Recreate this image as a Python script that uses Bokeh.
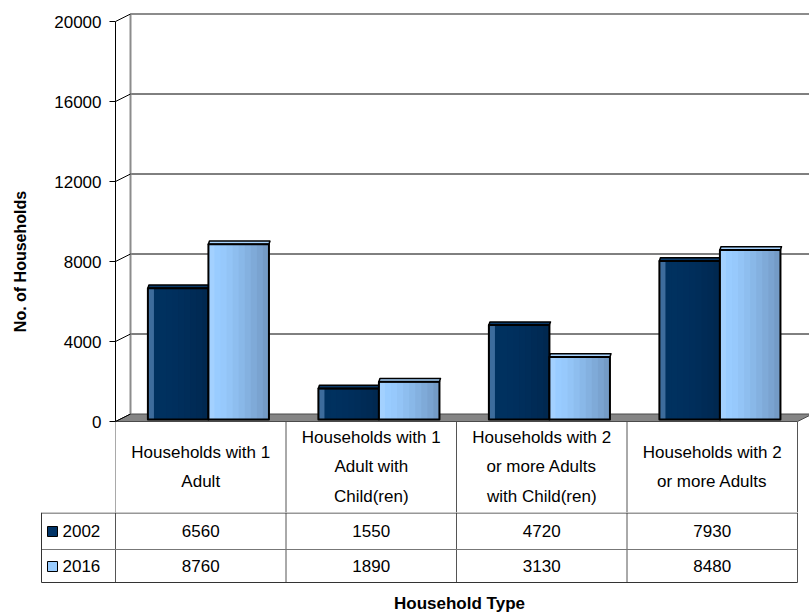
import textwrap

from bokeh.core.properties import value
from bokeh.embed import file_html
from bokeh.layouts import column
from bokeh.models import FixedTicker, LinearAxis, Range1d
from bokeh.plotting import figure
from bokeh.resources import INLINE

# ---- data -------------------------------------------------------------
categories = [
    "Households with 1 Adult",
    "Households with 1 Adult with Child(ren)",
    "Households with 2 or more Adults with Child(ren)",
    "Households with 2 or more Adults",
]
years = ["2002", "2016"]
values_2002 = [6560, 1550, 4720, 7930]
values_2016 = [8760, 1890, 3130, 8480]
y_ticks = [0, 4000, 8000, 12000, 16000, 20000]

series = [values_2002, values_2016]

# ---- styling ----------------------------------------------------------
FONT = value("Liberation Sans")
W, H = 809, 614
LEFT = 115              # page x of the front value axis
TOP = 10                # page y of the chart frame top
PX_PER_UNIT = 0.02      # vertical scale: pixels per household
Y_MAX = 20550
HEAD_BOT = 512          # page y of the bottom of the table's header row
ZERO_PX = TOP + Y_MAX * PX_PER_UNIT            # page y of the value 0
Y_MIN = -(HEAD_BOT - ZERO_PX) / PX_PER_UNIT    # chart frame reaches the header bottom
TOP_H = HEAD_BOT
CAT_PX = 170.5          # width of one category in pixels
DEPTH_X = 15 / CAT_PX   # 3-D depth offset in category units
DEPTH_Y = 375           # 3-D depth offset in value units

stripe_colors = [
    ["#3d6c9c", "#00315f", "#00315f", "#00305e", "#002f5d", "#002e5b",
     "#002d59", "#002b56", "#002a54", "#002850"],
    ["#a3d1ff", "#99ccff", "#97c9fc", "#93c4f6", "#8ebeef", "#89b8e8",
     "#84b1e0", "#7faad8", "#7aa3d0", "#749bc6"],
]
top_colors = ["#0a3a6a", "#a8d4ff"]
key_colors = ["#003366", "#99ccff"]
bar_offsets = [0.19, 0.545]
bar_w = 0.355
bar_lift = 100          # bars stand a little behind the front edge
table_line = "#555555"
TXT = "17px"

x_end = (W - LEFT) / CAT_PX
n = len(categories)

# ---- chart (with the table's header row underneath) -------------------
p = figure(
    width=W, height=TOP_H,
    x_range=Range1d(0, x_end), y_range=Range1d(Y_MIN, Y_MAX),
    output_backend="svg", toolbar_location=None,
    x_axis_location=None,
    min_border_left=LEFT, min_border_right=0,
    min_border_top=TOP, min_border_bottom=0,
)
p.frame_align = False
p.grid.visible = False
p.outline_line_color = None
p.background_fill_color = "white"
p.border_fill_color = "white"

ax = p.yaxis[0]
ax.ticker = FixedTicker(ticks=y_ticks)
ax.bounds = (y_ticks[0], y_ticks[-1])
ax.major_tick_out = 6
ax.major_tick_in = 0
ax.minor_tick_line_color = None
ax.axis_line_color = "black"
ax.major_tick_line_color = "black"
ax.major_label_text_font = "Liberation Sans"
ax.major_label_text_font_size = TXT
ax.major_label_text_color = "black"
ax.major_label_standoff = 8

# value-axis title on a bare companion axis, centred a bit lower than the ticks
title_axis = LinearAxis(
    ticker=FixedTicker(ticks=[]), bounds=(-2700, y_ticks[-1]),
    axis_line_color=None, major_tick_line_color=None, minor_tick_line_color=None,
    axis_label="No. of Households", axis_label_standoff=23,
    axis_label_text_font="Liberation Sans", axis_label_text_font_style="bold",
    axis_label_text_font_size="16px", axis_label_text_color="black",
)
p.add_layout(title_axis, "left")

# table column lines below the floor
p.segment(x0=list(range(n + 1)), y0=[0] * (n + 1),
          x1=list(range(n + 1)), y1=[Y_MIN] * (n + 1),
          line_color=table_line, line_width=1)

# header cells
head_text = ["\n".join(textwrap.wrap(c, 17)) for c in categories]
head_mid = -((ZERO_PX + HEAD_BOT) / 2 - ZERO_PX) / PX_PER_UNIT
p.text(x=[i + 0.5 for i in range(n)], y=[head_mid] * n, text=head_text,
       text_align="center", text_baseline="middle", text_line_height=1.53,
       text_font=FONT, text_font_size=TXT, text_color="black")

# floor
p.patch([0, n, n + DEPTH_X, DEPTH_X], [0, 0, DEPTH_Y, DEPTH_Y],
        fill_color="#858585", line_color="#4a4a4a", line_width=1)

# back wall: gridlines, left edge and top edge
inner = y_ticks[1:-1]
p.segment(x0=[DEPTH_X] * len(inner), y0=[t + DEPTH_Y for t in inner],
          x1=[x_end] * len(inner), y1=[t + DEPTH_Y for t in inner],
          line_color="black", line_width=1)
p.segment(x0=[DEPTH_X], y0=[DEPTH_Y], x1=[DEPTH_X],
          y1=[y_ticks[-1] + DEPTH_Y], line_color="#8c8c8c", line_width=2)
p.segment(x0=[DEPTH_X], y0=[y_ticks[-1] + DEPTH_Y], x1=[x_end],
          y1=[y_ticks[-1] + DEPTH_Y], line_color="#8c8c8c", line_width=2)

# diagonal connectors from the front axis to the back wall
p.segment(x0=[0] * len(y_ticks), y0=y_ticks,
          x1=[DEPTH_X] * len(y_ticks), y1=[t + DEPTH_Y for t in y_ticks],
          line_color="black", line_width=1)

# bars: shaded front face built from overlapping stripes, a thin top face and outline
for s, vals in enumerate(series):
    cols = stripe_colors[s]
    k = len(cols)
    for i, v in enumerate(vals):
        x0 = i + bar_offsets[s]
        x1 = x0 + bar_w
        sw = bar_w / k
        p.quad(left=[x0 + j * sw for j in range(k)],
               right=[x1] * k,
               bottom=[bar_lift] * k, top=[v + bar_lift] * k,
               fill_color=cols, line_color=None)
        skew = 0.006
        p.patch([x0, x1, x1 + skew, x0 + skew],
                [v + bar_lift, v + bar_lift, v + bar_lift + 160, v + bar_lift + 160],
                fill_color=top_colors[s], line_color="black", line_width=1.5,
                line_join="round")
        p.quad(left=[x0], right=[x1], bottom=[bar_lift], top=[v + bar_lift],
               fill_color=None, line_color="black", line_width=2,
               line_join="round")

# ---- data rows of the table -------------------------------------------
t = figure(
    width=W, height=H - TOP_H,
    x_range=Range1d(0, W), y_range=Range1d(H, TOP_H),
    output_backend="svg", toolbar_location=None,
    x_axis_location=None, y_axis_location=None,
    min_border=0,
)
t.frame_align = False
t.grid.visible = False
t.outline_line_color = None
t.background_fill_color = "white"
t.border_fill_color = "white"

col_x = [LEFT + i * CAT_PX for i in range(n + 1)]
centers = [LEFT + (i + 0.5) * CAT_PX for i in range(n)]
row1_bot, row2_bot = 549, 582
legend_left = 41

# column lines
t.segment(x0=col_x, y0=[TOP_H] * len(col_x), x1=col_x, y1=[row2_bot] * len(col_x),
          line_color=table_line, line_width=1)
# row lines
t.segment(x0=[legend_left, legend_left, legend_left],
          y0=[TOP_H + 0.5, row1_bot, row2_bot],
          x1=[col_x[-1]] * 3, y1=[TOP_H + 0.5, row1_bot, row2_bot],
          line_color=["#333333", "#777777", "#333333"], line_width=1)
t.segment(x0=[legend_left], y0=[TOP_H], x1=[legend_left], y1=[row2_bot],
          line_color="#333333", line_width=1)

# value rows with legend keys
row_mid = [(TOP_H + row1_bot) / 2, (row1_bot + row2_bot) / 2]
for s, vals in enumerate(series):
    t.text(x=centers, y=[row_mid[s]] * n, text=[str(v) for v in vals],
           text_align="center", text_baseline="middle",
           text_font=FONT, text_font_size=TXT, text_color="black")
t.rect(x=[52, 52], y=[r + 0.5 for r in row_mid], width=10, height=10,
       fill_color=key_colors, line_color="black", line_width=1)
t.text(x=[62, 62], y=row_mid, text=years, text_align="left",
       text_baseline="middle", text_font=FONT, text_font_size=TXT,
       text_color="black")

# x-axis title
t.text(x=[(LEFT + col_x[-1]) / 2 + 3], y=[603], text=["Household Type"],
       text_align="center", text_baseline="middle", text_font=FONT,
       text_font_size="17px", text_font_style="bold", text_color="black")

layout = column(p, t, spacing=0)
open("out.html", "w").write(file_html(layout, INLINE))
